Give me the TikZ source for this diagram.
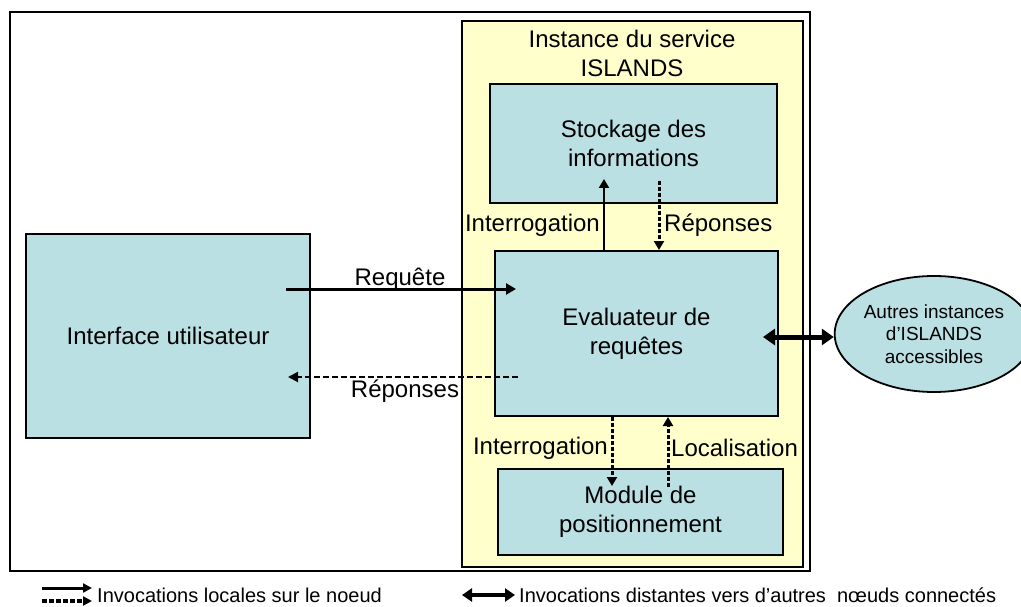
\documentclass[tikz,border=0pt]{standalone}
\usepackage{fontspec}
\setmainfont{Liberation Sans}
\usetikzlibrary{arrows.meta,shapes.geometric}
\definecolor{boxfill}{RGB}{187,224,227}
\definecolor{instfill}{RGB}{255,255,204}
\begin{document}
\begin{tikzpicture}[x=1pt,y=-1pt,
  box/.style={draw=black,line width=2pt,fill=boxfill,rectangle,align=center,inner sep=0pt,
    font=\fontsize{24}{29}\selectfont},
  lbl/.style={font=\fontsize{24}{29}\selectfont,inner sep=1pt},
  solidarr/.style={line width=2.5pt,-{Triangle[length=9pt,width=10pt]}},
  dasharr/.style={line width=3pt,dash pattern=on 4pt off 2pt,-{Triangle[length=9pt,width=10pt]}},
  hsolid/.style={line width=3pt,-{Triangle[length=10pt,width=11pt]}},
  hdash/.style={line width=2pt,dash pattern=on 6pt off 3pt,-{Triangle[length=10pt,width=10pt]}},
  dblarr/.style={line width=5pt,{Triangle[length=12pt,width=16pt]}-{Triangle[length=12pt,width=16pt]}},
  legtext/.style={font=\fontsize{20}{24}\selectfont,inner sep=0pt,anchor=west}]
\useasboundingbox (0,0) rectangle (1021,607);
\fill[white] (0,0) rectangle (1021,607);
% outer frame and instance box
\node[draw=black,line width=1.5pt,rectangle,minimum width=800pt,minimum height=559pt,inner sep=0pt] (frame) at (410,291.5) {};
\node[draw=black,line width=2pt,fill=instfill,rectangle,minimum width=341pt,minimum height=546pt,inner sep=0pt] (inst) at (632.5,294) {};
\node[lbl,align=center] (title) at (632,53) {Instance du service\\ISLANDS};
% boxes
\node[box,minimum width=287pt,minimum height=119pt] (stock) at (633.5,143.5) {Stockage des\\informations};
\node[box,minimum width=283pt,minimum height=165pt] (eval) at (636.5,333.5) {Evaluateur de\\requêtes};
\node[box,minimum width=285pt,minimum height=86pt] (mod) at (640.5,512) {Module de\\positionnement};
\node[box,minimum width=284pt,minimum height=204pt] (iface) at (168,336) {Interface utilisateur};
\node[ellipse,draw=black,line width=1.8pt,fill=boxfill,minimum width=172pt,minimum height=116pt,inner sep=0pt,align=center,
  font=\fontsize{19}{22.5}\selectfont] (ell) at (934,334) {Autres instances\\d’ISLANDS\\accessibles};
% horizontal connectors
\draw[hsolid] ([xshift=-25pt,yshift=47pt]iface.east) -- ([xshift=22pt,yshift=44.5pt]eval.west);
\node[lbl] (lrq) at (400,279) {Requête};
\draw[hdash] ([xshift=24pt,yshift=-43.5pt]eval.west) -- ([xshift=-23pt,yshift=-41pt]iface.east);
\node[lbl] (lrp) at (405,391) {Réponses};
% stockage <-> evaluateur
\draw[solidarr] ([xshift=-32.5pt]eval.north) -- ([xshift=-29.5pt,yshift=25pt]stock.south);
\draw[dasharr] ([xshift=25.5pt,yshift=23pt]stock.south) -- ([xshift=22.5pt]eval.north);
\node[lbl,anchor=east] (li1) at (601,225) {Interrogation};
\node[lbl,anchor=west] (lr1) at (663,225) {Réponses};
% evaluateur <-> module
\draw[dasharr] ([xshift=-24.5pt]eval.south) -- ([xshift=-28.5pt,yshift=-18pt]mod.north);
\draw[dasharr] ([xshift=27.5pt,yshift=-19pt]mod.north) -- ([xshift=31.5pt]eval.south);
\node[lbl,anchor=east] (li2) at (609,448) {Interrogation};
\node[lbl,anchor=west] (lloc) at (670,448) {Localisation};
% remote
\draw[dblarr] ([xshift=-16pt,yshift=-3.5pt]eval.east) -- ([yshift=-3pt]ell.west);
% legend
\coordinate (la1) at (42,588);
\coordinate (lb1) at (92,588);
\coordinate (la2) at (42,601);
\coordinate (lb2) at (92,601);
\coordinate (lc1) at (462,595);
\coordinate (lc2) at (515,595);
\draw[line width=3pt,-{Triangle[length=9pt,width=9pt]}] (la1) -- (lb1);
\draw[line width=3.5pt,dash pattern=on 5pt off 2pt,-{Triangle[length=9pt,width=9pt]}] (la2) -- (lb2);
\node[legtext] (leg1) at (97,595) {Invocations locales sur le noeud};
\draw[line width=4pt,{Triangle[length=10pt,width=13pt]}-{Triangle[length=10pt,width=13pt]}] (lc1) -- (lc2);
\node[legtext] (leg2) at (519,595) {Invocations distantes vers d’autres\ \ nœuds connectés};
\end{tikzpicture}
\end{document}
